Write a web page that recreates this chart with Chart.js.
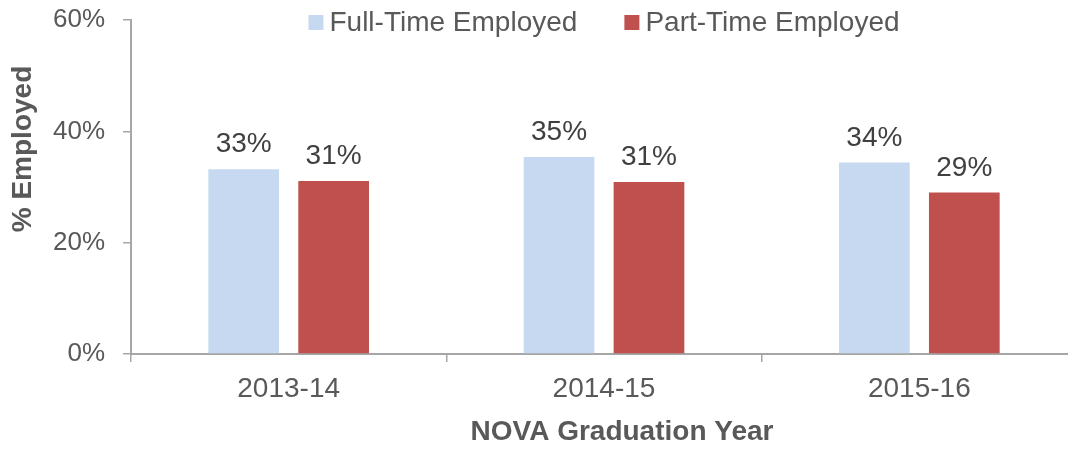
<!DOCTYPE html>
<html>
<head>
<meta charset="utf-8">
<script src="https://cdn.jsdelivr.net/npm/chart.js@4.4.1/dist/chart.umd.min.js"></script>
<style>
  html, body { margin: 0; padding: 0; background: #ffffff; overflow: hidden; }
  #wrap { width: 1068px; height: 449px; overflow: hidden; position: relative; }
  canvas { display: block; }
</style>
</head>
<body>
<div id="wrap"><canvas id="c" width="1080" height="449"></canvas></div>
<script>
const categories = ['2013-14', '2014-15', '2015-16'];
const fullTime = [33.2, 35.4, 34.4];
const partTime = [31.1, 30.9, 29.0];
const seriesNames = ['Full-Time Employed', 'Part-Time Employed'];
const yTickValues = [0, 20, 40, 60];
const xTitle = 'NOVA Graduation Year';
const yTitle = '% Employed';

const FONT = "'Liberation Sans', Arial, Helvetica, sans-serif";
const AXIS = '#A6A6A6';

const topLegend = {
  id: 'topLegend',
  afterDraw(chart) {
    const ctx = chart.ctx;
    const area = chart.chartArea;
    ctx.save();
    ctx.font = '28px ' + FONT;
    const box = 15, gap = 6, itemGap = 47;
    const items = chart.data.datasets.map(ds => ({
      label: ds.label, color: ds.backgroundColor,
      w: box + gap + ctx.measureText(ds.label).width
    }));
    const total = items.reduce((s, it) => s + it.w, 0) + itemGap * (items.length - 1);
    let x = (area.left + area.right) / 2 - total / 2;
    items.forEach(it => {
      ctx.fillStyle = it.color;
      ctx.fillRect(x, 15, box, box);
      ctx.fillStyle = '#595959';
      ctx.textBaseline = 'alphabetic';
      ctx.textAlign = 'left';
      ctx.fillText(it.label, x + box + gap, 31);
      x += it.w + itemGap;
    });
    ctx.restore();
  }
};

const axisTitles = {
  id: 'axisTitles',
  afterDraw(chart) {
    const ctx = chart.ctx;
    const area = chart.chartArea;
    ctx.save();
    ctx.font = 'bold 28px ' + FONT;
    ctx.fillStyle = '#595959';
    ctx.textAlign = 'center';
    ctx.textBaseline = 'middle';
    ctx.fillText(xTitle, (area.left + area.right) / 2 + 18, chart.height - 17);
    ctx.translate(23, (area.top + area.bottom) / 2 - 38);
    ctx.rotate(-Math.PI / 2);
    ctx.fillText(yTitle, 0, 0);
    ctx.restore();
  }
};

const valueLabels = {
  id: 'valueLabels',
  afterDatasetsDraw(chart) {
    const ctx = chart.ctx;
    ctx.save();
    ctx.font = '28px ' + FONT;
    ctx.fillStyle = '#404040';
    ctx.textAlign = 'center';
    ctx.textBaseline = 'alphabetic';
    chart.data.datasets.forEach((ds, i) => {
      const meta = chart.getDatasetMeta(i);
      meta.data.forEach((bar, j) => {
        ctx.fillText(Math.round(ds.data[j]) + '%', bar.x, bar.y - 17);
      });
    });
    ctx.restore();
  }
};

new Chart(document.getElementById('c'), {
  type: 'bar',
  data: {
    labels: categories,
    datasets: [
      { label: seriesNames[0], data: fullTime, backgroundColor: '#C6D9F1', categoryPercentage: 0.5705, barPercentage: 0.786 },
      { label: seriesNames[1], data: partTime, backgroundColor: '#C0504D', categoryPercentage: 0.5705, barPercentage: 0.786 }
    ]
  },
  options: {
    responsive: false,
    animation: false,
    devicePixelRatio: 1,
    layout: { padding: { top: 20, right: 3, bottom: 0, left: 0 } },
    plugins: {
      legend: { display: false },
      tooltip: { enabled: false }
    },
    scales: {
      x: {
        offset: true,
        afterFit(scale) { scale.height = 95; },
        grid: { display: true, offset: true, drawOnChartArea: false, drawTicks: true, tickLength: 8, color: AXIS, lineWidth: 1.5 },
        border: { display: true, color: AXIS, width: 2 },
        ticks: { color: '#595959', font: { family: FONT, size: 28 }, padding: 10 },
        title: { display: false }
      },
      y: {
        min: 0, max: 60,
        afterFit(scale) { scale.width = 131; scale.paddingTop = 0; scale.paddingBottom = 0; },
        afterBuildTicks(scale) { scale.ticks = yTickValues.map(v => ({ value: v })); },
        grid: { display: true, drawOnChartArea: false, drawTicks: true, tickLength: 8, color: AXIS, lineWidth: 1.5 },
        border: { display: true, color: AXIS, width: 2 },
        ticks: { color: '#595959', font: { family: FONT, size: 26 }, padding: 18, callback: v => v + '%' },
        title: { display: false }
      }
    }
  },
  plugins: [valueLabels, topLegend, axisTitles]
});
</script>
</body>
</html>
